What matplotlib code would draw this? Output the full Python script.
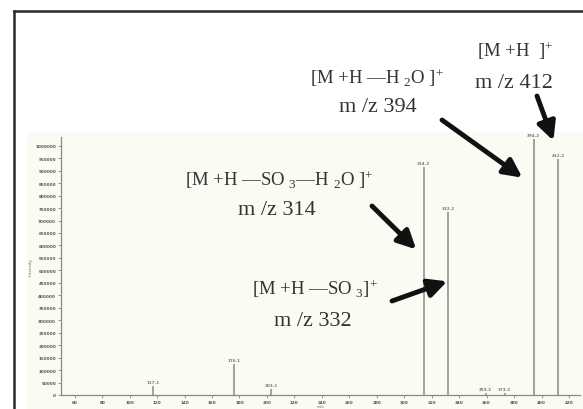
import numpy as np
import matplotlib
matplotlib.use("Agg")
import matplotlib.pyplot as plt
from matplotlib.lines import Line2D
from matplotlib.patches import Rectangle

plt.rcParams['font.family'] = ['Liberation Serif', 'DejaVu Serif']
plt.rcParams['mathtext.fontset'] = 'custom'
plt.rcParams['mathtext.rm'] = 'Liberation Serif'
plt.rcParams['mathtext.it'] = 'Liberation Serif'

# peak list: m/z and intensity (counts)
mz = [117.1, 176.1, 203.1, 314.2, 332.2, 359.2, 373.2, 394.2, 412.2]
intensity = [36000, 124000, 24000, 916000, 736000, 8000, 8000, 1028000, 948000]
peak_labels = ["117.1", "176.1", "203.1", "314.2", "332.2", "359.2", "373.2", "394.2", "412.2"]

x_ticks = list(range(60, 440, 20))
y_ticks = list(range(0, 1000001, 50000))

# fragment annotations: text lines, peak tip (m/z, intensity)
ann_formula = ["[M +H  ]$^{+}$",
               "[M +H \u2014H $_{2}$O ]$^{+}$",
               "[M +H \u2014SO $_{3}$\u2014H $_{2}$O ]$^{+}$",
               "[M +H \u2014SO $_{3}$]$^{+}$"]
ann_mz = ["m /z 412", "m /z 394", "m /z 314", "m /z 332"]
ann_tip = [(408.6, 1020000), (386.0, 872000), (308.7, 584000), (331.3, 456000)]

W, H = 583, 410
fig = plt.figure(figsize=(W / 100, H / 100), dpi=100)


def fx(px):
    return px / W


def fy(py):
    return 1 - py / H


# outer frame (left and top edges)
fig.add_artist(Line2D([fx(14), fx(14)], [0, fy(12)], color='#2a2a2a', lw=1.8))
fig.add_artist(Line2D([fx(14), 1], [fy(12), fy(12)], color='#2a2a2a', lw=1.8))

# spectrum panel background
fig.add_artist(Rectangle((fx(27), 0), 1 - fx(27), fy(133), facecolor='#fbfbf4',
                         edgecolor='none', zorder=0))

ax = fig.add_axes([fx(61), fy(396), fx(580) - fx(61), (396 - 138) / H])
ax.set_facecolor('none')
ax.vlines(mz, 0, intensity, color='#9a9a9a', lw=1.3)
for m, v, lab in zip(mz, intensity, peak_labels):
    ax.text(m, v + 8000, lab, ha='center', va='bottom', fontsize=3,
            color='#777777', family='DejaVu Sans', fontweight='bold')

ax.set_xlim(50, 428)
ax.set_ylim(0, 1035000)
ax.set_xticks(x_ticks)
ax.set_yticks(y_ticks)
ax.set_xticklabels([str(t) for t in x_ticks], fontsize=3, color='#555555',
                   family='DejaVu Sans', fontweight='bold')
ax.set_yticklabels([str(t) for t in y_ticks], fontsize=3, color='#555555',
                   family='DejaVu Sans', fontweight='bold')
ax.tick_params(length=2, width=0.6, colors='#888888', pad=1.5, labelcolor='#555555')
for s in ['top', 'right']:
    ax.spines[s].set_visible(False)
for s in ['left', 'bottom']:
    ax.spines[s].set_color('#8a8a8a')
    ax.spines[s].set_linewidth(0.9)
ax.set_ylabel("Intensity", fontsize=3, color='#666666', family='DejaVu Sans', labelpad=2)
ax.set_xlabel("m/z", fontsize=3, color='#666666', family='DejaVu Sans', labelpad=0.3)

# annotation text positions (figure pixels, centre)
formula_pos = [(515, 51), (377, 78), (279, 180), (315, 289)]
mz_pos = [(514, 84), (378, 108), (277, 211), (313, 321)]
arrow_start = [(537, 97), (442, 121), (372, 207), (392, 302)]

for f, t, (x1, y1), (x2, y2) in zip(ann_formula, ann_mz, formula_pos, mz_pos):
    fig.text(fx(x1), fy(y1), f, ha='center', va='center', fontsize=13.5, color='#333333')
    fig.text(fx(x2), fy(y2), t, ha='center', va='center', fontsize=16, color='#333333')

for (sx, sy), tip in zip(arrow_start, ann_tip):
    ax.annotate("", xy=tip, xycoords='data',
                xytext=(fx(sx), fy(sy)), textcoords='figure fraction',
                arrowprops=dict(arrowstyle='-|>,head_length=1.1,head_width=0.55',
                                lw=3.5, color='#111111', shrinkA=0, shrinkB=0),
                annotation_clip=False)

fig.savefig("out.png", dpi=100)
